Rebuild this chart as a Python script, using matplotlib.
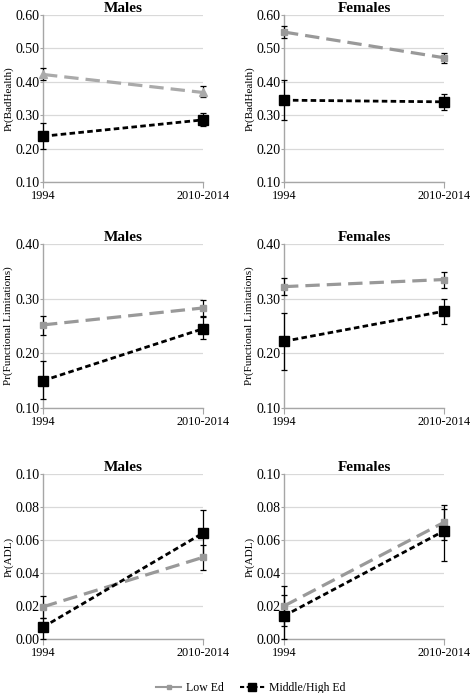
import numpy as np
import matplotlib.pyplot as plt
from matplotlib.lines import Line2D

# x categories
periods = ['1994', '2010-2014']

# Low Ed: values and error bar bounds (lower, upper), per panel
low_bad_m = [0.422, 0.368]
low_bad_m_lo = [0.405, 0.353]
low_bad_m_hi = [0.440, 0.386]
low_bad_f = [0.549, 0.472]
low_bad_f_lo = [0.530, 0.457]
low_bad_f_hi = [0.567, 0.487]
low_fl_m = [0.252, 0.283]
low_fl_m_lo = [0.234, 0.268]
low_fl_m_hi = [0.269, 0.298]
low_fl_f = [0.322, 0.335]
low_fl_f_lo = [0.306, 0.320]
low_fl_f_hi = [0.338, 0.348]
low_adl_m = [0.0195, 0.0495]
low_adl_m_lo = [0.013, 0.042]
low_adl_m_hi = [0.026, 0.057]
low_adl_f = [0.0200, 0.0707]
low_adl_f_lo = [0.008, 0.060]
low_adl_f_hi = [0.032, 0.081]

# Middle/High Ed
mid_bad_m = [0.237, 0.286]
mid_bad_m_lo = [0.198, 0.267]
mid_bad_m_hi = [0.277, 0.306]
mid_bad_f = [0.345, 0.340]
mid_bad_f_lo = [0.285, 0.315]
mid_bad_f_hi = [0.405, 0.363]
mid_fl_m = [0.150, 0.245]
mid_fl_m_lo = [0.116, 0.227]
mid_fl_m_hi = [0.186, 0.266]
mid_fl_f = [0.222, 0.277]
mid_fl_f_lo = [0.170, 0.254]
mid_fl_f_hi = [0.274, 0.300]
mid_adl_m = [0.0072, 0.0642]
mid_adl_m_lo = [0.0, 0.050]
mid_adl_m_hi = [0.0125, 0.078]
mid_adl_f = [0.0140, 0.0655]
mid_adl_f_lo = [0.0, 0.0473]
mid_adl_f_hi = [0.0267, 0.0786]

ylabels = ['Pr(BadHealth)', 'Pr(Functional Limitations)', 'Pr(ADL)']
titles = ['Males', 'Females']
ylims = [(0.10, 0.60), (0.10, 0.40), (0.0, 0.10)]
ysteps = [0.10, 0.10, 0.02]

panels = [
    [(low_bad_m, low_bad_m_lo, low_bad_m_hi, mid_bad_m, mid_bad_m_lo, mid_bad_m_hi),
     (low_bad_f, low_bad_f_lo, low_bad_f_hi, mid_bad_f, mid_bad_f_lo, mid_bad_f_hi)],
    [(low_fl_m, low_fl_m_lo, low_fl_m_hi, mid_fl_m, mid_fl_m_lo, mid_fl_m_hi),
     (low_fl_f, low_fl_f_lo, low_fl_f_hi, mid_fl_f, mid_fl_f_lo, mid_fl_f_hi)],
    [(low_adl_m, low_adl_m_lo, low_adl_m_hi, mid_adl_m, mid_adl_m_lo, mid_adl_m_hi),
     (low_adl_f, low_adl_f_lo, low_adl_f_hi, mid_adl_f, mid_adl_f_lo, mid_adl_f_hi)],
]

plt.rcParams['font.family'] = ['Liberation Serif', 'DejaVu Serif']

W, H = 471, 693
fig = plt.figure(figsize=(W / 100, H / 100), dpi=100)

col_x = [(43, 203), (284, 444)]
row_y = [(15, 182), (244, 408), (474, 639)]

gray = '#999999'
x = np.arange(len(periods))

for r in range(3):
    for c in range(2):
        x0, x1 = col_x[c]
        y0, y1 = row_y[r]
        ax = fig.add_axes([x0 / W, 1 - y1 / H, (x1 - x0) / W, (y1 - y0) / H])
        lo, lo_l, lo_h, md, md_l, md_h = panels[r][c]
        lo, md = np.array(lo), np.array(md)
        ymin, ymax = ylims[r]

        mk = '^' if (r == 0 and c == 0) else 's'
        lc = '#aaaaaa' if (r == 0 and c == 0) else gray
        ax.errorbar(x, lo, yerr=[lo - np.array(lo_l), np.array(lo_h) - lo], fmt='none',
                    ecolor='black', elinewidth=0.9, capsize=2.5, capthick=0.9, zorder=3, clip_on=False)
        ax.errorbar(x, md, yerr=[md - np.array(md_l), np.array(md_h) - md], fmt='none',
                    ecolor='black', elinewidth=0.9, capsize=2.5, capthick=0.9, zorder=3, clip_on=False)
        ax.plot(x, lo, color=lc, lw=2.3, dashes=(4.5, 2.2), marker=mk, ms=5.5 if mk == '^' else 4.5,
                mfc=lc, mec=lc, zorder=4, clip_on=False)
        ax.plot(x, md, color='black', lw=2.0, dashes=(2.0, 1.2), marker='s', ms=6.5,
                mfc='black', mec='black', zorder=5, clip_on=False)

        ax.set_xlim(0, 1)
        ax.set_ylim(ymin, ymax)
        ax.set_yticks(np.arange(ymin, ymax + 1e-9, ysteps[r]))
        ax.yaxis.set_major_formatter(plt.FormatStrFormatter('%.2f'))
        ax.set_xticks(x)
        ax.set_xticklabels(periods)
        ax.grid(axis='y', color='#d9d9d9', lw=0.9)
        ax.set_axisbelow(True)
        for s in ['top', 'right']:
            ax.spines[s].set_visible(False)
        ax.spines['left'].set_color('#a6a6a6')
        ax.spines['bottom'].set_color('#a6a6a6')
        ax.spines['left'].set_linewidth(1.0)
        ax.spines['bottom'].set_linewidth(1.0)
        ax.tick_params(axis='y', length=2, color='#a6a6a6', labelsize=10, pad=0.5)
        ax.tick_params(axis='x', length=4, color='#a6a6a6', labelsize=8.8, pad=2)
        ax.set_ylabel(ylabels[r], fontsize=8, labelpad=1.5)
        ax.set_title(titles[c], fontsize=11, fontweight='bold', pad=2)

handles = [
    Line2D([], [], color=gray, lw=1.5, marker='s', ms=3.5, mfc=gray, mec=gray),
    Line2D([], [], color='black', lw=1.5, dashes=(2.0, 1.2), marker='s', ms=6, mfc='black', mec='black'),
]
fig.legend(handles, ['Low Ed', 'Middle/High Ed'], loc='center', bbox_to_anchor=(251 / W, 1 - 688 / H),
           ncol=2, frameon=False, fontsize=8.5, handlelength=2.1, columnspacing=1.4, handletextpad=0.4)

fig.savefig('out.png', dpi=100)
